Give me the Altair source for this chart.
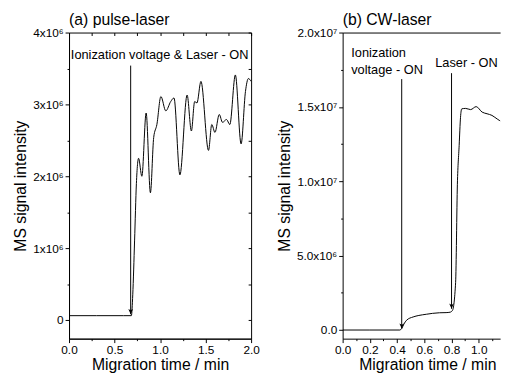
import altair as alt
import pandas as pd

FONT = "Liberation Sans"

# ---------------- Panel (a): pulse-laser ----------------
a_time = [0.0, 0.30, 0.60, 0.685, 0.70, 0.72, 0.74, 0.764, 0.80, 0.847, 0.894,
          0.93, 0.965, 1.009, 1.063, 1.117, 1.153, 1.218, 1.297, 1.344, 1.38,
          1.405, 1.449, 1.532, 1.568, 1.603, 1.65, 1.686, 1.73, 1.766, 1.827,
          1.89, 1.938, 1.97, 2.0]
a_signal = [0.06, 0.06, 0.06, 0.06, 0.35, 1.1, 1.9, 2.25, 2.0, 2.88, 1.77,
            2.54, 2.72, 3.11, 2.91, 3.04, 3.09, 2.02, 3.13, 2.63, 3.04,
            3.02, 3.32, 2.36, 2.72, 2.61, 2.86, 2.75, 2.79, 2.72, 3.41,
            2.45, 3.18, 3.36, 3.32]  # x 1e6

a_arrow_time = [0.677]
a_arrow_top = [3.54]
a_arrow_tip = [0.08]

a_note_time = [0.02]
a_note_y = [3.63]
a_note_text = ["Ionization voltage & Laser - ON"]

a_x_ticks = [0.0, 0.25, 0.5, 0.75, 1.0, 1.25, 1.5, 1.75, 2.0]
a_y_ticks = [0.0, 0.5, 1.0, 1.5, 2.0, 2.5, 3.0, 3.5, 4.0]
a_y_major = [0.0, 1.0, 2.0, 3.0, 4.0]
a_y_labels = ["0", "1x10\u2076", "2x10\u2076", "3x10\u2076", "4x10\u2076"]

# ---------------- Panel (b): CW-laser ----------------
b_time = [0.0, 0.2, 0.42, 0.434, 0.45, 0.47, 0.518, 0.56, 0.615, 0.66, 0.711,
          0.76, 0.79, 0.807, 0.83, 0.843, 0.856, 0.866, 0.875, 0.904, 0.94,
          0.981, 1.025, 1.061, 1.097, 1.14, 1.18, 1.21]
b_signal = [0.0, 0.0, 0.0, 0.1, 0.4, 0.66, 0.88, 0.98, 1.06, 1.12, 1.16,
            1.17, 1.2, 1.32, 3.2, 9.8, 12.4, 14.3, 14.87, 14.9, 14.82,
            15.02, 14.65, 14.54, 14.43, 14.16, 13.98, 14.16]  # x 1e6

b_arrow_time = [0.434, 0.80]
b_arrow_top = [16.87, 17.27]
b_arrow_tip = [0.1, 1.43]

b_note_time = [0.063, 0.063, 0.68]
b_note_y = [18.33, 17.2, 17.67]
b_note_text = ["Ionization", "voltage - ON", "Laser - ON"]

b_x_ticks = [round(0.1 * i, 1) for i in range(0, 12)]
b_y_ticks = [0.0, 2.5, 5.0, 7.5, 10.0, 12.5, 15.0, 17.5, 20.0]
b_y_major = [0.0, 5.0, 10.0, 15.0, 20.0]
b_y_labels = ["0.0", "5.0x10\u2076", "1.0x10\u2077", "1.5x10\u2077", "2.0x10\u2077"]


def label_expr(values, labels):
    expr = "''"
    for v, l in zip(values, labels):
        expr = f"abs(datum.value - {v}) < 1e-6 ? '{l}' : ({expr})"
    return expr


def panel(time, signal, ar_t, ar_top, ar_tip, nt, ny, ntext, xdom, ydom,
          xticks, xmajor_mult, yticks, ymajor, ylabels, ymajor_step,
          width, height, title, mirror, x_title_x=None):
    line_df = pd.DataFrame({"t": time, "v": signal})
    arrow_df = pd.DataFrame({"t": ar_t, "v": ar_top, "v2": ar_tip})
    tip_df = pd.DataFrame({"t": ar_t, "v": ar_tip})
    note_df = pd.DataFrame({"t": nt, "v": ny, "label": ntext})

    xs = alt.Scale(domain=xdom, nice=False, zero=False)
    ys = alt.Scale(domain=ydom, nice=False, zero=False)

    x_major_test = f"abs(datum.value*{xmajor_mult} - round(datum.value*{xmajor_mult})) < 1e-6"
    y_major_test = f"abs(datum.value/{ymajor_step} - round(datum.value/{ymajor_step})) < 1e-6"

    x_axis_kw = dict(values=xticks, title="Migration time / min",
                     labelExpr=f"{x_major_test} ? format(datum.value, '.1f') : ''",
                     tickSize={"condition": {"test": x_major_test, "value": 4}, "value": 2},
                     orient="bottom", labelFlush=False, labelPadding=2,
                     titlePadding=1)
    if x_title_x is not None:
        x_axis_kw["titleX"] = x_title_x
    x_axis = alt.Axis(**x_axis_kw)
    y_axis = alt.Axis(values=yticks, title="MS signal intensity",
                      labelExpr=label_expr(ymajor, ylabels),
                      tickSize={"condition": {"test": y_major_test, "value": 4}, "value": 2},
                      orient="left")

    line = alt.Chart(line_df).mark_line(
        color="black", strokeWidth=1, interpolate="monotone", clip=True
    ).encode(
        x=alt.X("t:Q", scale=xs, axis=x_axis),
        y=alt.Y("v:Q", scale=ys, axis=y_axis),
    )
    rules = alt.Chart(arrow_df).mark_rule(color="black", strokeWidth=1).encode(
        x=alt.X("t:Q", scale=xs, axis=None),
        y=alt.Y("v:Q", scale=ys, axis=None),
        y2="v2:Q",
    )
    tips = alt.Chart(tip_df).mark_point(
        shape="M-0.45,-1L0,0L0.45,-1L0,-0.75Z", size=110, filled=True,
        color="black", opacity=1,
    ).encode(
        x=alt.X("t:Q", scale=xs, axis=None),
        y=alt.Y("v:Q", scale=ys, axis=None),
    )
    notes = alt.Chart(note_df).mark_text(
        align="left", baseline="alphabetic", font=FONT, fontSize=13, color="black"
    ).encode(
        x=alt.X("t:Q", scale=xs, axis=None),
        y=alt.Y("v:Q", scale=ys, axis=None),
        text="label:N",
    )
    layers = [line, rules, tips, notes]
    if mirror:
        mirror_layer = alt.Chart(line_df).mark_line(strokeOpacity=0).encode(
            x=alt.X("t:Q", scale=xs, axis=alt.Axis(
                values=xticks, labels=False, domain=False, title=None,
                orient="top", tickSize=3, offset=-3)),
            y=alt.Y("v:Q", scale=ys, axis=alt.Axis(
                values=yticks, labels=False, domain=False, title=None,
                orient="right", tickSize=3, offset=-3)),
        )
        view = alt.ViewBackground(stroke="black", strokeWidth=1)
    else:
        mirror_layer = alt.Chart(line_df).mark_line(strokeOpacity=0).encode(
            x=alt.X("t:Q", scale=xs, axis=alt.Axis(
                labels=False, ticks=False, domain=True, title=None,
                orient="top")),
            y=alt.Y("v:Q", scale=ys, axis=None),
        )
        view = alt.ViewBackground(stroke=None)
    layers.append(mirror_layer)
    ch = alt.layer(*layers).properties(
        width=width, height=height, view=view,
        title=alt.TitleParams(title, anchor="start", frame="group", font=FONT,
                              fontSize=16, fontWeight="normal", color="black",
                              offset=-1),
    ).resolve_axis(x="independent", y="independent")
    return ch


left = panel(a_time, a_signal, a_arrow_time, a_arrow_top, a_arrow_tip,
             a_note_time, a_note_y, a_note_text, [0.0, 2.0], [-0.26, 4.0],
             a_x_ticks, 2, a_y_ticks, a_y_major, a_y_labels, 1.0,
             185, 311, "(a) pulse-laser", True)
right = panel(b_time, b_signal, b_arrow_time, b_arrow_top, b_arrow_tip,
              b_note_time, b_note_y, b_note_text, [0.0, 1.157], [-0.58, 20.0],
              b_x_ticks, 5, b_y_ticks, b_y_major, b_y_labels, 5.0,
              160, 311, "(b) CW-laser", False, x_title_x=86)

chart = alt.hconcat(left, right, spacing=93, bounds="flush").configure(
    font=FONT,
    padding={"left": 4, "top": 0, "right": 0, "bottom": 0},
).configure_axis(
    grid=False, domainColor="black", tickColor="black", labelColor="black",
    titleColor="black", labelFont=FONT, labelFontSize=12, titleFont=FONT,
    titleFontSize=16, titleFontWeight="normal", labelPadding=2,
    titlePadding=4, domainWidth=1, tickWidth=1,
)

chart.save("out.html", embed_options={"renderer": "svg", "actions": False})
